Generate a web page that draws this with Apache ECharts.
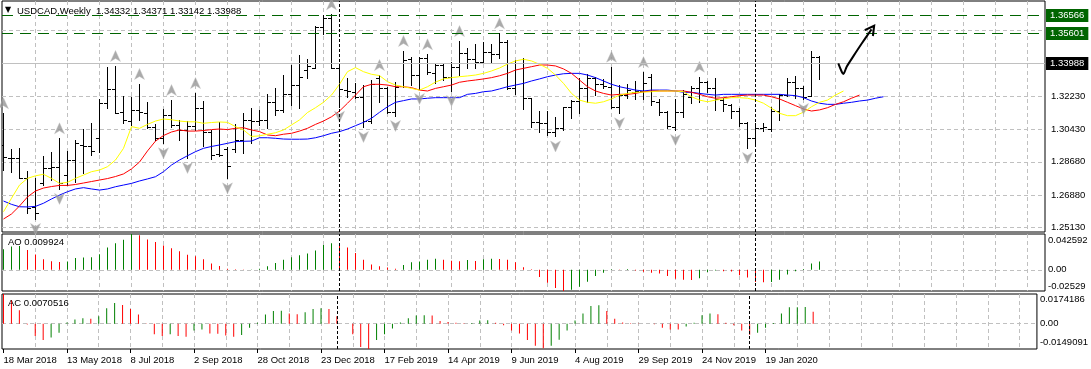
<!DOCTYPE html>
<html><head><meta charset="utf-8">
<script src="https://cdn.jsdelivr.net/npm/echarts@6/dist/echarts.min.js"></script>
<style>html,body{margin:0;padding:0;background:#fff}#c{width:1091px;height:369px}</style>
</head><body><div id="c"></div>
<script>
// ---------------- data ----------------
const symbolTitle = 'USDCAD,Weekly  1.34332 1.34371 1.33142 1.33988';
const dateLabels = ['18 Mar 2018','13 May 2018','8 Jul 2018','2 Sep 2018','28 Oct 2018','23 Dec 2018','17 Feb 2019','14 Apr 2019','9 Jun 2019','4 Aug 2019','29 Sep 2019','24 Nov 2019','19 Jan 2020'];
const priceLabels = [1.2513, 1.2688, 1.2868, 1.3043, 1.3223];
const priceGrid = [1.2513, 1.2688, 1.2868, 1.3043, 1.3223, 1.3400, 1.3578];
const levelLines = [1.36566, 1.35601];
const bidPrice = 1.33988;
const separators = [42, 94];

const open = [1.2959,1.2887,1.2890,1.2779,1.2626,1.2754,1.2833,1.2842,1.2797,1.2878,
1.2959,1.2955,1.2995,1.3184,1.3259,1.3138,1.3088,1.3148,1.3130,1.3058,
1.2997,1.3121,1.3067,1.3040,1.3061,1.3158,1.3031,1.2910,1.2937,1.2937,
1.2986,1.3094,1.3088,1.3094,1.3192,1.3148,1.3232,1.3282,1.3363,1.3376,
1.3597,1.3642,1.3372,1.3255,1.3243,1.3219,1.3088,1.3318,1.3268,1.3138,
1.3277,1.3422,1.3336,1.3429,1.3345,1.3390,1.3327,1.3381,1.3453,1.3422,
1.3408,1.3462,1.3448,1.3512,1.3268,1.3399,1.3211,1.3084,1.3076,1.3027,
1.3052,1.3165,1.3196,1.3265,1.3318,1.3286,1.3273,1.3165,1.3228,1.3243,
1.3250,1.3327,1.3192,1.3136,1.3058,1.3136,1.3219,1.3268,1.3297,1.3268,
1.3201,1.3174,1.3142,1.3076,1.2995,1.3049,1.3045,1.3142,1.3228,1.3297,
1.3265,1.3225,1.34332];
const high = [1.3130,1.2937,1.2941,1.2820,1.2779,1.2901,1.2920,1.2995,1.2928,1.2986,
1.3045,1.3076,1.3205,1.3381,1.3385,1.3225,1.3219,1.3288,1.3189,1.3070,
1.3153,1.3201,1.3094,1.3088,1.3239,1.3196,1.3040,1.3083,1.2950,1.3070,
1.3130,1.3160,1.3148,1.3232,1.3265,1.3336,1.3390,1.3444,1.3422,1.3602,
1.3660,1.3663,1.3381,1.3322,1.3291,1.3282,1.3309,1.3336,1.3273,1.3297,
1.3466,1.3435,1.3432,1.3448,1.3399,1.3394,1.3405,1.3519,1.3483,1.3502,
1.3516,1.3502,1.3561,1.3525,1.3417,1.3429,1.3214,1.3142,1.3142,1.3111,
1.3165,1.3201,1.3322,1.3340,1.3327,1.3315,1.3381,1.3282,1.3286,1.3304,
1.3352,1.3341,1.3207,1.3142,1.3207,1.3256,1.3279,1.3327,1.3304,1.3322,
1.3211,1.3178,1.3157,1.3081,1.3076,1.3076,1.3165,1.3235,1.3322,1.3333,
1.3279,1.3466,1.34371];
const low = [1.2824,1.2815,1.2779,1.2592,1.2560,1.2743,1.2770,1.2722,1.2743,1.2761,
1.2806,1.2905,1.2923,1.3157,1.3130,1.3076,1.3067,1.3094,1.3049,1.2986,
1.2968,1.3058,1.2986,1.2889,1.3040,1.2954,1.2883,1.2901,1.2779,1.2923,
1.2914,1.2968,1.3067,1.3049,1.3121,1.3138,1.3174,1.3157,1.3318,1.3372,
1.3556,1.3372,1.3165,1.3219,1.3211,1.3056,1.3076,1.3192,1.3130,1.3115,
1.3273,1.3282,1.3261,1.3340,1.3291,1.3309,1.3250,1.3336,1.3376,1.3376,
1.3399,1.3405,1.3426,1.3261,1.3232,1.3153,1.3058,1.3031,1.3013,1.3005,
1.3040,1.3103,1.3130,1.3192,1.3228,1.3265,1.3157,1.3130,1.3214,1.3207,
1.3207,1.3174,1.3121,1.3052,1.3040,1.3111,1.3184,1.3189,1.3243,1.3148,
1.3142,1.3103,1.3063,1.2943,1.2954,1.3034,1.3034,1.3094,1.3225,1.3214,
1.3207,1.3222,1.33142];
const close = [1.2896,1.2890,1.2779,1.2618,1.2591,1.2833,1.2842,1.2752,1.2878,1.2968,
1.2955,1.2927,1.3184,1.3259,1.3130,1.3094,1.3148,1.3138,1.3058,1.2995,
1.3121,1.3067,1.3040,1.3061,1.3158,1.3031,1.2905,1.2905,1.2847,1.2986,
1.3094,1.3088,1.3094,1.3192,1.3148,1.3232,1.3282,1.3327,1.3385,1.3597,
1.3642,1.3372,1.3262,1.3250,1.3219,1.3088,1.3285,1.3265,1.3138,1.3273,
1.3417,1.3336,1.3429,1.3352,1.3390,1.3327,1.3381,1.3453,1.3422,1.3408,
1.3462,1.3448,1.3512,1.3268,1.3399,1.3211,1.3084,1.3076,1.3027,1.3052,
1.3165,1.3196,1.3265,1.3318,1.3286,1.3279,1.3165,1.3228,1.3255,1.3250,
1.3291,1.3196,1.3137,1.3063,1.3137,1.3232,1.3268,1.3297,1.3268,1.3207,
1.3178,1.3142,1.3076,1.2995,1.3049,1.3056,1.3142,1.3228,1.3297,1.3265,
1.3219,1.3433,1.33988];

// Alligator lines (lips = yellow, teeth = red, jaw = blue), shifted forward
const lips = [1.2599,1.2672,1.2743,1.2779,1.2793,1.2801,1.2779,1.2752,1.2758,1.2779,
1.2797,1.2815,1.2824,1.2842,1.2878,1.2941,1.3058,1.3049,1.3070,1.3088,
1.3099,1.3095,1.3088,1.3084,1.3084,1.3076,1.3080,1.3083,1.3081,1.3058,
1.3040,1.3005,1.3008,1.3017,1.3025,1.3040,1.3067,1.3094,1.3134,1.3160,
1.3189,1.3228,1.3286,1.3354,1.3376,1.3354,1.3340,1.3333,1.3300,1.3282,
1.3273,1.3264,1.3255,1.3273,1.3298,1.3315,1.3322,1.3327,1.3331,1.3336,
1.3345,1.3358,1.3374,1.3395,1.3412,1.3421,1.3412,1.3394,1.3372,1.3336,
1.3291,1.3237,1.3201,1.3189,1.3184,1.3192,1.3207,1.3228,1.3237,1.3243,
1.3244,1.3246,1.3250,1.3250,1.3250,1.3246,1.3219,1.3201,1.3192,1.3201,
1.3207,1.3214,1.3214,1.3211,1.3201,1.3184,1.3157,1.3130,1.3117,1.3117,
1.3136,1.3165,1.3189,1.3201,1.3228,1.3250];
const teeth = [1.2560,1.2587,1.2630,1.2679,1.2711,1.2727,1.2735,1.2741,1.2741,1.2746,
1.2754,1.2762,1.2770,1.2778,1.2789,1.2803,1.2830,1.2867,1.2927,1.2980,
1.3010,1.3029,1.3040,1.3034,1.3034,1.3037,1.3042,1.3045,1.3042,1.3049,
1.3052,1.3040,1.3031,1.3013,1.3009,1.3017,1.3022,1.3034,1.3049,1.3070,
1.3088,1.3111,1.3142,1.3184,1.3228,1.3273,1.3286,1.3286,1.3282,1.3273,
1.3273,1.3268,1.3255,1.3250,1.3264,1.3273,1.3282,1.3297,1.3304,1.3309,
1.3315,1.3322,1.3332,1.3345,1.3363,1.3372,1.3381,1.3390,1.3390,1.3385,
1.3369,1.3345,1.3309,1.3273,1.3250,1.3237,1.3228,1.3232,1.3232,1.3237,
1.3246,1.3250,1.3250,1.3250,1.3250,1.3250,1.3243,1.3232,1.3219,1.3211,
1.3214,1.3219,1.3225,1.3228,1.3228,1.3228,1.3219,1.3207,1.3189,1.3171,
1.3153,1.3142,1.3148,1.3160,1.3178,1.3192,1.3211,1.3228];
const jaw = [1.2657,1.2639,1.2626,1.2625,1.2628,1.2645,1.2668,1.2689,1.2707,1.2722,
1.2729,1.2722,1.2716,1.2722,1.2734,1.2743,1.2752,1.2765,1.2776,1.2788,
1.2815,1.2851,1.2878,1.2901,1.2923,1.2941,1.2951,1.2959,1.2968,1.2977,
1.2979,1.2980,1.2998,1.2998,1.2995,1.2991,1.2990,1.2990,1.2991,1.2998,
1.3009,1.3022,1.3031,1.3045,1.3063,1.3081,1.3103,1.3135,1.3165,1.3189,
1.3198,1.3207,1.3207,1.3211,1.3214,1.3214,1.3214,1.3214,1.3232,1.3237,
1.3246,1.3250,1.3261,1.3273,1.3282,1.3291,1.3304,1.3315,1.3327,1.3336,
1.3343,1.3345,1.3345,1.3336,1.3322,1.3304,1.3286,1.3273,1.3264,1.3255,
1.3250,1.3255,1.3255,1.3255,1.3250,1.3243,1.3243,1.3237,1.3232,1.3228,
1.3232,1.3232,1.3232,1.3232,1.3232,1.3232,1.3232,1.3232,1.3228,1.3225,
1.3214,1.3196,1.3184,1.3178,1.3178,1.3184,1.3189,1.3196,1.3201,1.3211,
1.3219];

const fractalUp = [0,7,14,17,21,24,41,47,50,53,57,62,76,80,87];
const fractalDown = [4,7,20,23,28,42,45,49,52,56,69,77,84,93,100];

const ao = [0.0244,0.0277,0.0284,0.0235,0.0183,0.0125,0.0100,0.0092,0.0099,0.0140,
0.0145,0.0150,0.0185,0.0265,0.0317,0.0357,0.042592,0.0410,0.0360,0.0330,
0.0290,0.0255,0.0220,0.0180,0.0160,0.0125,0.0075,0.0045,0.0012,0.0006,
0.0003,0.0004,0.0012,0.0042,0.0080,0.0120,0.0148,0.0172,0.0195,0.0230,
0.0296,0.0317,0.0310,0.0265,0.0200,0.0119,0.0064,0.0042,0.0026,0.0013,
0.0056,0.0090,0.0098,0.0119,0.0132,0.0119,0.0108,0.0100,0.0115,0.0105,
0.0125,0.0130,0.0128,0.0120,0.0090,0.0030,0.0005,-0.0085,-0.0156,-0.0216,
-0.02529,-0.0239,-0.0202,-0.0143,-0.0074,-0.0037,0.0005,0.0003,0.0008,-0.0010,
-0.0025,-0.0035,-0.0045,-0.0075,-0.0108,-0.0118,-0.0122,-0.0101,-0.0028,-0.0009,
-0.0018,-0.0020,-0.0064,-0.0092,-0.0147,-0.0150,-0.0145,-0.0120,-0.0055,-0.0018,
0.0009,0.0074,0.009924];
const ac = [0.0174186,0.0139,0.0079,-0.0005,-0.0072,-0.0096,-0.0082,-0.0053,0.0007,0.0024,
0.0031,0.0029,0.0043,0.0091,0.0122,0.0110,0.0086,0.0053,-0.0002,-0.0062,
-0.0072,-0.0062,-0.0072,-0.0077,-0.0041,-0.0034,-0.0058,-0.0059,-0.0070,-0.0077,
-0.0067,-0.0024,0.0005,0.0053,0.0074,0.0075,0.0060,0.0055,0.0067,0.0086,
0.0091,0.0086,0.0043,0.0000,-0.0062,-0.0137,-0.0149091,-0.0096,-0.0062,-0.0029,
0.0007,0.0031,0.0048,0.0050,0.0048,0.0015,0.0010,0.0005,0.0002,0.0004,
0.0019,0.0020,0.0005,-0.0010,-0.0041,-0.0058,-0.0096,-0.0130,-0.0144,-0.0130,
-0.0094,-0.0041,0.0019,0.0060,0.0103,0.0108,0.0074,0.0029,0.0007,0.0002,
-0.0002,-0.0001,-0.0004,-0.0024,-0.0034,-0.0035,-0.0017,0.0005,0.0050,0.0060,
0.0055,0.0005,-0.0010,-0.0041,-0.0065,-0.0053,-0.0024,0.0003,0.0060,0.0096,
0.0097,0.0098,0.0070516];
const aoFirstUp = true, acFirstUp = false;
const aoTickText = ['-0.02529', '0.00', '0.042592'];
const acTickText = ['-0.0149091', '0.00', '0.0174186'];
const aoTitle = 'AO 0.009924', acTitle = 'AC 0.0070516';
const drawnArrow = [[104.35,1.3399],[104.78,1.3354],[104.98,1.3342],[105.4,1.3381],[106.2,1.3435],[107.3,1.3507],[108.5,1.3582]];

// ---------------- chart ----------------
const FONT = "'Liberation Sans', Arial, sans-serif";
const FS = 9.5;
const XMIN = -0.1875, XMAX = 130.1875;
const YMIN = 1.248996, YMAX = 1.373505;
const gridBars = []; for (let i = 4; i <= 128; i += 4) gridBars.push(i);
const labelBars = dateLabels.map((d, k) => k * 8);
const gridLine = {color: '#c0c0c0', type: [4, 3], width: 1};
const aoMin = Math.min(...ao), aoMax = Math.max(...ao);
const acMin = Math.min(...ac), acMax = Math.max(...ac);
const isUp = (arr, firstUp) => arr.map((v, i) => i === 0 ? firstUp : v > arr[i - 1]);
const aoUp = isUp(ao, aoFirstUp), acUp = isUp(ac, acFirstUp);
const pick = (arr, flags, want) => arr.map((v, i) => [i, v]).filter((p, i) => flags[i] === want);

const chart = echarts.init(document.getElementById('c'), null, {renderer: 'canvas'});

const xBase = (gi) => ({
  gridIndex: gi, type: 'value', min: XMIN, max: XMAX,
  axisLine: {show: false}, axisTick: {show: false, customValues: gridBars},
  axisLabel: {show: false}, splitLine: {show: true, lineStyle: gridLine}
});
const sepLines = () => separators.map(s => ({xAxis: s, lineStyle: {color: '#000', type: [3, 2], width: 1}, label: {show: false}}));
const txt = {fontSize: FS, fontFamily: FONT, color: '#000', fontWeight: 'normal'};

const ohlc = open.map((o, i) => [i, o, high[i], low[i], close[i]]);

const histBar = (name, axis, data, color) => ({
  type: 'bar', name, xAxisIndex: axis, yAxisIndex: axis, data, barWidth: 1, barGap: '-100%', z: 2,
  itemStyle: {color}, emphasis: {disabled: true}, large: false
});
const sepSeries = (axis) => ({
  type: 'line', name: 'Separators ' + axis, xAxisIndex: axis, yAxisIndex: axis, z: 3, data: [], symbol: 'none',
  markLine: {silent: true, symbol: ['none', 'none'], animation: false, precision: 6, data: sepLines()}
});

const option = {
  animation: false,
  backgroundColor: '#ffffff',
  color: ['#000000'],
  title: [
    {text: '\u25BC', left: 0, top: 1, textStyle: {fontSize: 8, fontFamily: 'DejaVu Sans', color: '#000', fontWeight: 'normal'}},
    {text: symbolTitle, left: 12, top: 1, textStyle: txt},
    {text: aoTitle, left: 3, top: 232, textStyle: txt},
    {text: acTitle, left: 3, top: 293, textStyle: txt}
  ],
  grid: [
    {left: 2, top: 1, width: 1043, height: 231, show: true, borderColor: '#000', borderWidth: 1},
    {left: 2, top: 234, width: 1043, height: 57, show: true, borderColor: '#000', borderWidth: 1},
    {left: 2, top: 294, width: 1043, height: 55, show: true, borderColor: '#000', borderWidth: 1}
  ],
  xAxis: [
    xBase(0), xBase(1), xBase(2),
    {gridIndex: 2, type: 'value', min: XMIN, max: XMAX, position: 'bottom',
     axisLine: {show: false},
     axisTick: {show: true, customValues: labelBars, length: 4, lineStyle: {color: '#000'}},
     axisLabel: {show: true, customValues: labelBars, align: 'left', margin: 6,
       formatter: v => dateLabels[Math.round(v / 8)] || '', ...txt},
     splitLine: {show: false}}
  ],
  yAxis: [
    {gridIndex: 0, type: 'value', position: 'right', min: YMIN, max: YMAX,
     axisLine: {show: false}, axisTick: {show: false, customValues: priceGrid},
     splitLine: {show: true, lineStyle: gridLine},
     axisLabel: {customValues: priceLabels, formatter: v => v.toFixed(5), margin: 6, ...txt}},
    {gridIndex: 1, type: 'value', position: 'right', min: aoMin, max: aoMax,
     axisLine: {show: false}, axisTick: {show: false, customValues: [0]},
     splitLine: {show: true, lineStyle: gridLine},
     axisLabel: {customValues: [aoMin, 0, aoMax], margin: 3, ...txt,
       formatter: v => v === aoMax ? '{t|' + aoTickText[2] + '}' : (v === aoMin ? '{b|' + aoTickText[0] + '}' : aoTickText[1]),
       rich: {t: {padding: [12, 0, 0, 0], ...txt}, b: {padding: [0, 0, 9, 0], ...txt}}}},
    {gridIndex: 2, type: 'value', position: 'right', min: acMin, max: acMax,
     axisLine: {show: false}, axisTick: {show: false, customValues: [0]},
     splitLine: {show: true, lineStyle: gridLine},
     axisLabel: {customValues: [acMin, 0, acMax], margin: 3, ...txt,
       formatter: v => v === acMax ? '{t|' + acTickText[2] + '}' : (v === acMin ? '{b|' + acTickText[0] + '}' : acTickText[1]),
       rich: {t: {padding: [11, 0, 0, 0], ...txt}, b: {padding: [0, 0, 14, 0], ...txt}}}}
  ],
  series: [
    {type: 'line', name: 'Levels', xAxisIndex: 0, yAxisIndex: 0, z: 1, data: [], symbol: 'none',
     markLine: {
        silent: true, symbol: ['none', 'none'], animation: false, precision: 6,
        data: [
          ...levelLines.map(v => ({yAxis: v, lineStyle: {color: '#006400', type: [11, 7], width: 1},
            label: {show: true, position: 'end', distance: 1, formatter: v.toFixed(5), backgroundColor: '#006400', color: '#fff', padding: [2, 4, 1, 4], fontSize: FS, fontFamily: FONT}})),
          {yAxis: bidPrice, lineStyle: {color: '#c0c0c0', type: 'solid', width: 1},
            label: {show: true, position: 'end', distance: 1, formatter: bidPrice.toFixed(5), backgroundColor: '#000', color: '#fff', padding: [2, 4, 1, 4], fontSize: FS, fontFamily: FONT}},
          ...sepLines()
        ]
     }},
    {
      type: 'custom', name: 'USDCAD', xAxisIndex: 0, yAxisIndex: 0, clip: true, z: 2,
      data: ohlc, encode: {x: 0, y: [1, 2, 3, 4]},
      renderItem: (params, api) => {
        const i = api.value(0);
        const po = api.coord([i, api.value(1)]), ph = api.coord([i, api.value(2)]);
        const pl = api.coord([i, api.value(3)]), pc = api.coord([i, api.value(4)]);
        const x = Math.floor(ph[0]) + 0.5;
        const sy = y => Math.round(y) + 0.5;
        const st = {stroke: '#000', lineWidth: 1};
        return {type: 'group', children: [
          {type: 'line', shape: {x1: x, y1: Math.round(ph[1]), x2: x, y2: Math.round(pl[1]) + 1}, style: st},
          {type: 'line', shape: {x1: x - 3.5, y1: sy(po[1]), x2: x, y2: sy(po[1])}, style: st},
          {type: 'line', shape: {x1: x, y1: sy(pc[1]), x2: x + 3.5, y2: sy(pc[1])}, style: st}
        ]};
      }
    },
    {type: 'line', name: 'Jaw', xAxisIndex: 0, yAxisIndex: 0, z: 3, data: jaw.map((v, i) => [i, v]), showSymbol: false, symbol: 'none', lineStyle: {color: '#0000ff', width: 1}},
    {type: 'line', name: 'Teeth', xAxisIndex: 0, yAxisIndex: 0, z: 3, data: teeth.map((v, i) => [i, v]), showSymbol: false, symbol: 'none', lineStyle: {color: '#ff0000', width: 1}},
    {type: 'line', name: 'Lips', xAxisIndex: 0, yAxisIndex: 0, z: 3, data: lips.map((v, i) => [i, v]), showSymbol: false, symbol: 'none', lineStyle: {color: '#ffff00', width: 1}},
    {type: 'scatter', name: 'FractalUp', xAxisIndex: 0, yAxisIndex: 0, z: 4,
     data: fractalUp.map(i => [i, high[i]]), symbol: 'path://M5,0 L10,11 L5,8 L0,11 Z', symbolSize: [10, 11], symbolOffset: [0, -10],
     itemStyle: {color: '#959595', borderColor: '#c4c4c4', borderWidth: 0.5}},
    {type: 'scatter', name: 'FractalDown', xAxisIndex: 0, yAxisIndex: 0, z: 4,
     data: fractalDown.map(i => [i, low[i]]), symbol: 'path://M0,0 L5,3 L10,0 L5,11 Z', symbolSize: [10, 11], symbolOffset: [0, 10],
     itemStyle: {color: '#959595', borderColor: '#c4c4c4', borderWidth: 0.5}},
    {type: 'line', name: 'Arrow', xAxisIndex: 0, yAxisIndex: 0, z: 5, smooth: 0.3,
     data: drawnArrow.map((p, k) => k === drawnArrow.length - 1
        ? {value: p, symbol: 'path://M0,10 L5,0 L10,10', symbolSize: [10, 9], symbolRotate: -36, itemStyle: {color: 'none', borderColor: '#000', borderWidth: 2}}
        : {value: p, symbol: 'none'}),
     showSymbol: true, lineStyle: {color: '#000', width: 2}},
    histBar('AO up', 1, pick(ao, aoUp, true), '#008000'),
    histBar('AO down', 1, pick(ao, aoUp, false), '#ff0000'),
    histBar('AC up', 2, pick(ac, acUp, true), '#008000'),
    histBar('AC down', 2, pick(ac, acUp, false), '#ff0000'),
    sepSeries(1),
    sepSeries(2)
  ]
};
chart.setOption(option);
</script>
</body></html>
